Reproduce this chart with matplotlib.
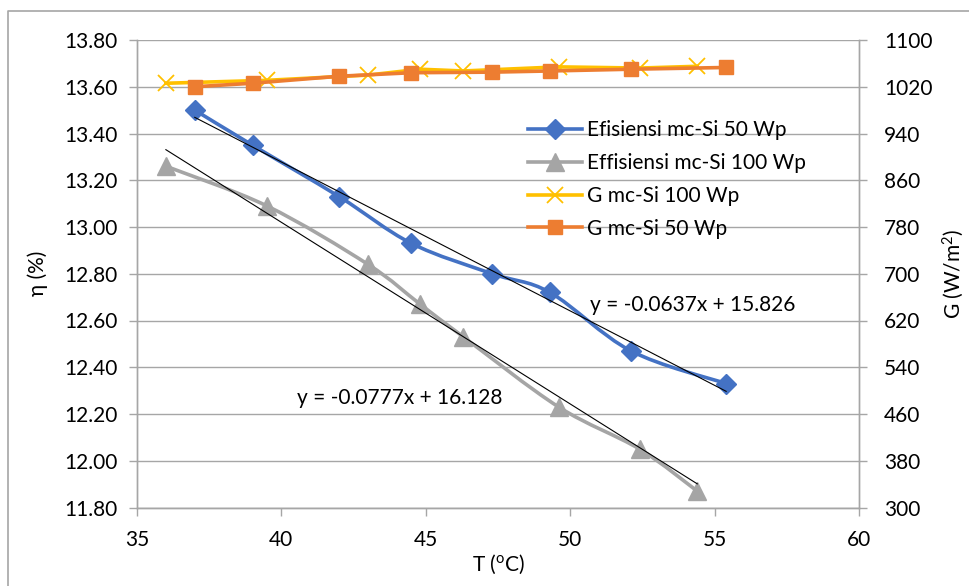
import numpy as np
import matplotlib
matplotlib.use("Agg")
import matplotlib.pyplot as plt
from matplotlib.path import Path
from matplotlib.patches import PathPatch
from matplotlib.lines import Line2D

plt.rcParams['font.family'] = ['Lato', 'DejaVu Sans']

# ---- data ----
T_50 = [37.0, 39.0, 42.0, 44.5, 47.3, 49.3, 52.1, 55.4]
eff_50 = [13.50, 13.35, 13.13, 12.93, 12.80, 12.72, 12.47, 12.33]
G_50 = [1020, 1026, 1038, 1044, 1045, 1047, 1050, 1053]

T_100 = [36.0, 39.5, 43.0, 44.8, 46.3, 49.6, 52.4, 54.4]
eff_100 = [13.26, 13.09, 12.84, 12.67, 12.53, 12.23, 12.05, 11.87]
G_100 = [1026, 1031, 1040, 1050, 1047, 1054, 1052, 1055]

trend_50 = (-0.0637, 15.826)
trend_100 = (-0.0777, 16.128)

labels = ["Efisiensi mc-Si 50 Wp", "Effisiensi mc-Si 100 Wp",
          "G mc-Si 100 Wp", "G mc-Si 50 Wp"]
x_ticks = [35, 40, 45, 50, 55, 60]
y1_ticks = [11.80, 12.00, 12.20, 12.40, 12.60, 12.80, 13.00, 13.20, 13.40, 13.60, 13.80]
y2_ticks = [300, 380, 460, 540, 620, 700, 780, 860, 940, 1020, 1100]

C_BLUE = '#4472c4'
C_GRAY = '#a5a5a5'
C_YEL = '#ffc000'
C_ORA = '#ed7d31'
C_GRID = '#a6a6a6'
FS = 15
LW = 2.6

W, H = 970, 586
fig = plt.figure(figsize=(W / 100, H / 100), dpi=100)
L, R, B, Tp = 137, 859, 507.5, 40
ax = fig.add_axes([L / W, 1 - B / H, (R - L) / W, (B - Tp) / H])
ax2 = ax.twinx()


def smooth_path(ax_, xs, ys, color, lw, z):
    """Excel-style smoothed line: cubic Bezier segments through the points."""
    xs = np.asarray(xs, float)
    ys = np.asarray(ys, float)
    n = len(xs)
    verts = [(xs[0], ys[0])]
    codes = [Path.MOVETO]
    for i in range(n - 1):
        p0 = np.array([xs[max(i - 1, 0)], ys[max(i - 1, 0)]])
        p1 = np.array([xs[i], ys[i]])
        p2 = np.array([xs[i + 1], ys[i + 1]])
        p3 = np.array([xs[min(i + 2, n - 1)], ys[min(i + 2, n - 1)]])
        c1 = p1 + (p2 - p0) / 6.0
        c2 = p2 - (p3 - p1) / 6.0
        verts += [tuple(c1), tuple(c2), tuple(p2)]
        codes += [Path.CURVE4] * 3
    patch = PathPatch(Path(verts, codes), facecolor='none', edgecolor=color,
                      lw=lw, zorder=z, capstyle='round', joinstyle='round')
    ax_.add_patch(patch)


MK_50 = dict(marker='D', ms=10.5, color=C_BLUE)
MK_100 = dict(marker='^', ms=12.5, color=C_GRAY)
MK_G100 = dict(marker='x', ms=11, mew=1.3, color=C_YEL)
MK_G50 = dict(marker='s', ms=10, color=C_ORA)

# efficiency series (primary axis)
smooth_path(ax, T_50, eff_50, C_BLUE, LW, 3)
ax.plot(T_50, eff_50, ls='none', zorder=4, **MK_50)
smooth_path(ax, T_100, eff_100, C_GRAY, LW, 3)
ax.plot(T_100, eff_100, ls='none', zorder=4, **MK_100)

# trendlines
for Ts, (m, c) in ((T_50, trend_50), (T_100, trend_100)):
    xt = np.array([min(Ts), max(Ts)])
    ax.plot(xt, m * xt + c, color='black', lw=0.8, zorder=6)

ax.text(0.769, 0.433, "y = -0.0637x + 15.826", transform=ax.transAxes,
        ha='center', va='center', fontsize=FS, zorder=7)
ax.text(0.364, 0.234, "y = -0.0777x + 16.128", transform=ax.transAxes,
        ha='center', va='center', fontsize=FS, zorder=7)

# irradiance series (secondary axis)
ax2.plot(T_100, G_100, lw=LW, zorder=3, **MK_G100)
ax2.plot(T_50, G_50, lw=LW, zorder=4, **MK_G50)

ax.set_xlim(35, 60)
ax.set_ylim(11.80, 13.80)
ax2.set_ylim(300, 1100)
ax.set_xticks(x_ticks)
ax.set_yticks(y1_ticks)
ax.set_yticklabels([f"{v:.2f}" for v in y1_ticks])
ax2.set_yticks(y2_ticks)
ax2.set_yticklabels([str(v) for v in y2_ticks])

ax.grid(axis='y', color=C_GRID, lw=1.0)
ax.set_axisbelow(True)
for a in (ax, ax2):
    a.spines['top'].set_visible(False)
    for s in ('left', 'right', 'bottom'):
        a.spines[s].set_color(C_GRID)
        a.spines[s].set_linewidth(1.0)
    a.tick_params(colors=C_GRID, labelcolor='black', labelsize=FS,
                  length=6, width=1.0, direction='out')
ax.tick_params(axis='y', pad=8)
ax2.tick_params(axis='y', pad=12)
ax.tick_params(axis='x', pad=10)

ax.set_xlabel(r"T ($\mathregular{^{o}}$C)", fontsize=FS, labelpad=2)
ax.set_ylabel("η (%)", fontsize=FS, labelpad=12)
ax2.set_ylabel(r"G (W/m$\mathregular{^{2}}$)", fontsize=FS, labelpad=6)

handles = [
    Line2D([], [], lw=LW, **MK_50),
    Line2D([], [], lw=LW, **MK_100),
    Line2D([], [], lw=LW, **MK_G100),
    Line2D([], [], lw=LW, **MK_G50),
]
leg = ax2.legend(handles, labels, loc='upper left',
                 bbox_to_anchor=(528 / W, 1 - 120 / H),
                 bbox_transform=fig.transFigure, frameon=False,
                 fontsize=FS, handlelength=2.6, handletextpad=0.25,
                 labelspacing=0.62, borderpad=0, borderaxespad=0)
leg.set_zorder(10)

# chart-area border
fig.add_artist(Line2D([8 / W, 8 / W, 1.0], [0.0, 1 - 11 / H, 1 - 11 / H],
                      transform=fig.transFigure, color='#a6a6a6', lw=1.2))

fig.savefig("out.png", dpi=100)
